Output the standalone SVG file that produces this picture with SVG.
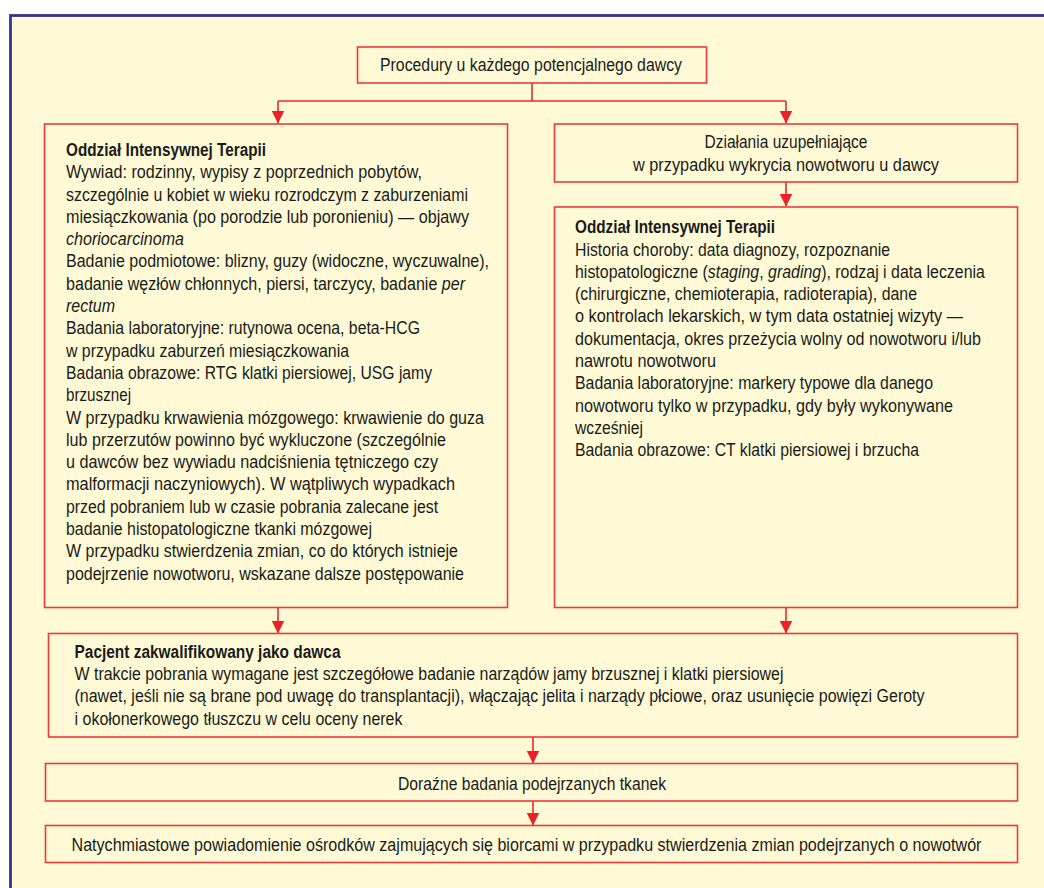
<svg xmlns="http://www.w3.org/2000/svg" width="1044" height="888" viewBox="0 0 1044 888">
<style>
.box{fill:none;stroke:#EC3B3B;stroke-width:1.6}
.con{fill:none;stroke:#EC2A2E;stroke-width:1.6}
text{font-family:"Liberation Sans Narrow","Liberation Sans",Arial,sans-serif;font-size:18.5px;fill:#1a1a1a}
.b{font-weight:bold}
.c{text-anchor:middle}
.i{font-style:italic}
</style>
<defs>
<marker id="ah" markerUnits="userSpaceOnUse" markerWidth="14" markerHeight="14" viewBox="0 0 14 13" refX="12.5" refY="6.5" orient="auto">
<path d="M0,0 L13,6.5 L0,13 z" fill="#EC2029"/>
</marker>
</defs>
<rect x="0" y="0" width="1044" height="888" fill="#ffffff"/>
<rect x="10.5" y="15.5" width="1100" height="1000" fill="#FFFAD5" stroke="#35358F" stroke-width="2.8"/>

<g id="connectors">
<path class="con" d="M532,83 V101 M278,101 H786"/>
<path class="con" d="M278,101 V123" marker-end="url(#ah)"/>
<path class="con" d="M786,101 V123" marker-end="url(#ah)"/>
<path class="con" d="M786,182 V206" marker-end="url(#ah)"/>
<path class="con" d="M278,608 V633" marker-end="url(#ah)"/>
<path class="con" d="M786,608 V633" marker-end="url(#ah)"/>
<path class="con" d="M533,737 V763" marker-end="url(#ah)"/>
<path class="con" d="M533,801 V825" marker-end="url(#ah)"/>
</g>

<g id="start">
<rect class="box" x="357.5" y="47" width="349" height="36"/>
<g transform="translate(531,0) scale(0.86,1)">
<text class="c" x="0" y="71.5" textLength="351.2" lengthAdjust="spacingAndGlyphs">Procedury u każdego potencjalnego dawcy</text>
</g>
</g>

<g id="oit-left">
<rect class="box" x="44.5" y="124" width="463" height="483.5"/>
<g transform="translate(66,0) scale(0.86,1)">
<text class="b" x="0" y="156" textLength="232.6" lengthAdjust="spacingAndGlyphs">Oddział Intensywnej Terapii</text>
<text x="0" y="178.3" textLength="414" lengthAdjust="spacingAndGlyphs">Wywiad: rodzinny, wypisy z poprzednich pobytów,</text>
<text x="0" y="200.6" textLength="467.4" lengthAdjust="spacingAndGlyphs">szczególnie u kobiet w wieku rozrodczym z zaburzeniami</text>
<text x="0" y="222.9" textLength="468.6" lengthAdjust="spacingAndGlyphs">miesiączkowania (po porodzie lub poronieniu) — objawy</text>
<text class="i" x="0" y="245.2" textLength="137.2" lengthAdjust="spacingAndGlyphs">choriocarcinoma</text>
<text x="0" y="267.5" textLength="491.9" lengthAdjust="spacingAndGlyphs">Badanie podmiotowe: blizny, guzy (widoczne, wyczuwalne),</text>
<text x="0" y="289.8" textLength="464" lengthAdjust="spacingAndGlyphs">badanie węzłów chłonnych, piersi, tarczycy, badanie <tspan class="i">per</tspan></text>
<text class="i" x="0" y="312.1" textLength="57" lengthAdjust="spacingAndGlyphs">rectum</text>
<text x="0" y="334.4" textLength="411.6" lengthAdjust="spacingAndGlyphs">Badania laboratoryjne: rutynowa ocena, beta-HCG</text>
<text x="0" y="356.7" textLength="329.1" lengthAdjust="spacingAndGlyphs">w przypadku zaburzeń miesiączkowania</text>
<text x="0" y="379" textLength="425.6" lengthAdjust="spacingAndGlyphs">Badania obrazowe: RTG klatki piersiowej, USG jamy</text>
<text x="0" y="401.3" textLength="75.6" lengthAdjust="spacingAndGlyphs">brzusznej</text>
<text x="0" y="423.6" textLength="486" lengthAdjust="spacingAndGlyphs">W przypadku krwawienia mózgowego: krwawienie do guza</text>
<text x="0" y="445.9" textLength="441.9" lengthAdjust="spacingAndGlyphs">lub przerzutów powinno być wykluczone (szczególnie</text>
<text x="0" y="468.2" textLength="432.6" lengthAdjust="spacingAndGlyphs">u dawców bez wywiadu nadciśnienia tętniczego czy</text>
<text x="0" y="490.5" textLength="452.3" lengthAdjust="spacingAndGlyphs">malformacji naczyniowych). W wątpliwych wypadkach</text>
<text x="0" y="512.8" textLength="432.6" lengthAdjust="spacingAndGlyphs">przed pobraniem lub w czasie pobrania zalecane jest</text>
<text x="0" y="535.1" textLength="355.8" lengthAdjust="spacingAndGlyphs">badanie histopatologiczne tkanki mózgowej</text>
<text x="0" y="557.4" textLength="455.8" lengthAdjust="spacingAndGlyphs">W przypadku stwierdzenia zmian, co do których istnieje</text>
<text x="0" y="579.7" textLength="462.8" lengthAdjust="spacingAndGlyphs">podejrzenie nowotworu, wskazane dalsze postępowanie</text>
</g>
</g>

<g id="uzupelniajace">
<rect class="box" x="554.5" y="124" width="463" height="58"/>
<g transform="translate(786,0) scale(0.86,1)">
<text class="c" x="0" y="148.5" textLength="189.5" lengthAdjust="spacingAndGlyphs">Działania uzupełniające</text>
<text class="c" x="0" y="170.8" textLength="355.8" lengthAdjust="spacingAndGlyphs">w przypadku wykrycia nowotworu u dawcy</text>
</g>
</g>

<g id="oit-right">
<rect class="box" x="554.5" y="207" width="463" height="400.5"/>
<g transform="translate(575,0) scale(0.86,1)">
<text class="b" x="0" y="233.3" textLength="232.6" lengthAdjust="spacingAndGlyphs">Oddział Intensywnej Terapii</text>
<text x="0" y="255.6" textLength="366.3" lengthAdjust="spacingAndGlyphs">Historia choroby: data diagnozy, rozpoznanie</text>
<text x="0" y="277.9" textLength="476.7" lengthAdjust="spacingAndGlyphs">histopatologiczne (<tspan class="i">staging</tspan>, <tspan class="i">grading</tspan>), rodzaj i data leczenia</text>
<text x="0" y="300.2" textLength="397.7" lengthAdjust="spacingAndGlyphs">(chirurgiczne, chemioterapia, radioterapia), dane</text>
<text x="0" y="322.5" textLength="451.2" lengthAdjust="spacingAndGlyphs">o kontrolach lekarskich, w tym data ostatniej wizyty —</text>
<text x="0" y="344.8" textLength="472.1" lengthAdjust="spacingAndGlyphs">dokumentacja, okres przeżycia wolny od nowotworu i/lub</text>
<text x="0" y="367.1" textLength="164" lengthAdjust="spacingAndGlyphs">nawrotu nowotworu</text>
<text x="0" y="389.4" textLength="416.3" lengthAdjust="spacingAndGlyphs">Badania laboratoryjne: markery typowe dla danego</text>
<text x="0" y="411.7" textLength="439.5" lengthAdjust="spacingAndGlyphs">nowotworu tylko w przypadku, gdy były wykonywane</text>
<text x="0" y="434" textLength="79.1" lengthAdjust="spacingAndGlyphs">wcześniej</text>
<text x="0" y="456.3" textLength="400" lengthAdjust="spacingAndGlyphs">Badania obrazowe: CT klatki piersiowej i brzucha</text>
</g>
</g>

<g id="pacjent">
<rect class="box" x="48.5" y="633.5" width="969" height="103.5"/>
<g transform="translate(74.5,0) scale(0.86,1)">
<text class="b" x="0" y="657.7" textLength="309.3" lengthAdjust="spacingAndGlyphs">Pacjent zakwalifikowany jako dawca</text>
<text x="0" y="680" textLength="824.4" lengthAdjust="spacingAndGlyphs">W trakcie pobrania wymagane jest szczegółowe badanie narządów jamy brzusznej i klatki piersiowej</text>
<text x="0" y="702.3" textLength="988.4" lengthAdjust="spacingAndGlyphs">(nawet, jeśli nie są brane pod uwagę do transplantacji), włączając jelita i narządy płciowe, oraz usunięcie powięzi Geroty</text>
<text x="0" y="724.6" textLength="381.4" lengthAdjust="spacingAndGlyphs">i okołonerkowego tłuszczu w celu oceny nerek</text>
</g>
</g>

<g id="dorazne">
<rect class="box" x="45.5" y="763.5" width="972" height="37.5"/>
<g transform="translate(532,0) scale(0.86,1)">
<text class="c" x="0" y="790" textLength="311.6" lengthAdjust="spacingAndGlyphs">Doraźne badania podejrzanych tkanek</text>
</g>
</g>

<g id="powiadomienie">
<rect class="box" x="45.5" y="825.5" width="972" height="37"/>
<g transform="translate(526.5,0) scale(0.86,1)">
<text class="c" x="0" y="851.5" textLength="1058.1" lengthAdjust="spacingAndGlyphs">Natychmiastowe powiadomienie ośrodków zajmujących się biorcami w przypadku stwierdzenia zmian podejrzanych o nowotwór</text>
</g>
</g>
</svg>
